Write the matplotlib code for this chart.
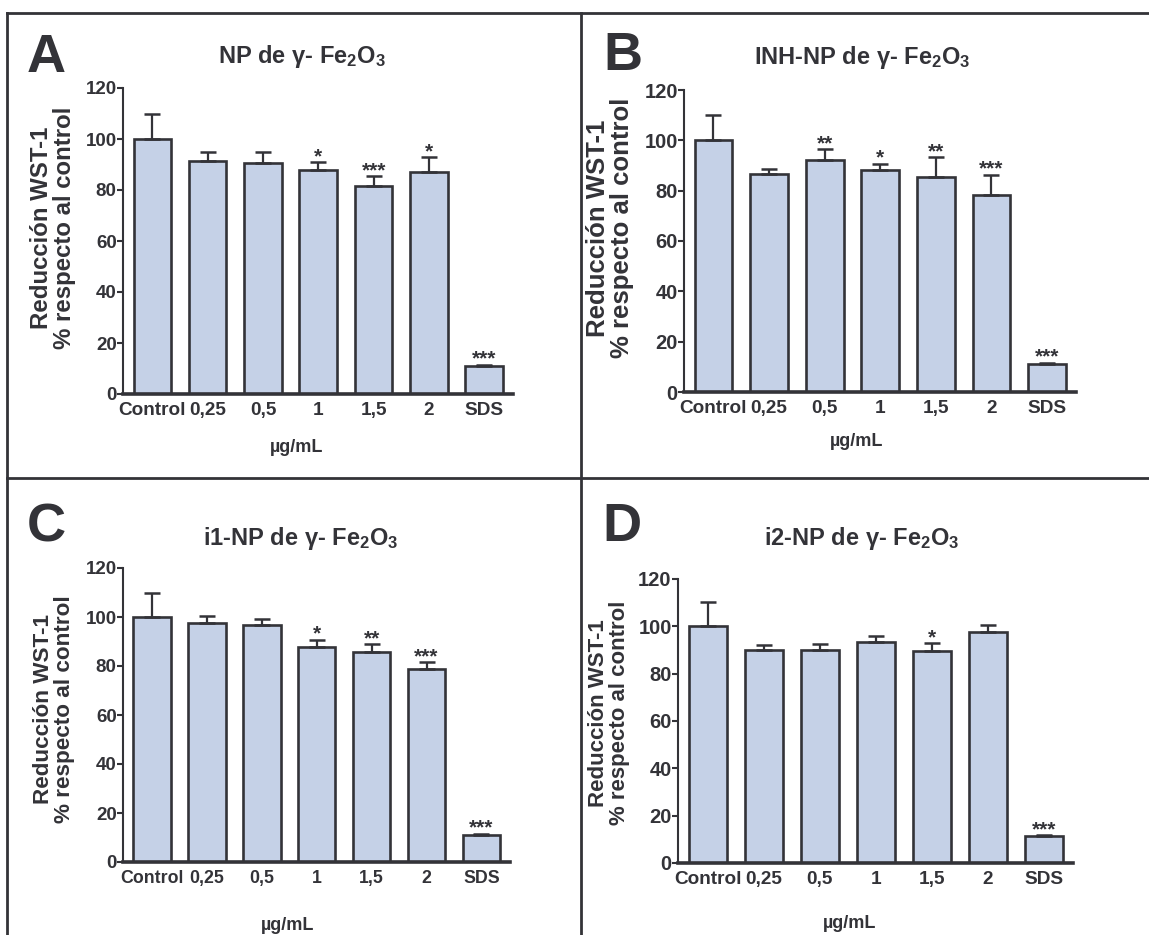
import numpy as np
import matplotlib
matplotlib.use('Agg')
import matplotlib.pyplot as plt
from matplotlib import font_manager
from matplotlib.lines import Line2D

# --- data ---
categories = ['Control', '0,25', '0,5', '1', '1,5', '2', 'SDS']

a_mean = [100, 91.3, 90.4, 88.0, 81.6, 87.1, 11.1]
a_err = [10.0, 3.7, 4.6, 2.8, 3.8, 5.8, 0.4]
a_stars = ['', '', '', '*', '***', '*', '***']

b_mean = [100, 86.6, 92.0, 88.3, 85.4, 78.2, 11.0]
b_err = [10.0, 2.0, 4.4, 2.4, 8.0, 8.1, 0.6]
b_stars = ['', '', '**', '*', '**', '***', '***']

c_mean = [100, 97.5, 96.7, 87.7, 85.9, 78.8, 11.0]
c_err = [9.8, 3.1, 2.6, 3.0, 3.1, 2.7, 0.6]
c_stars = ['', '', '', '*', '**', '***', '***']

d_mean = [100, 90.0, 90.0, 93.3, 89.6, 97.6, 11.3]
d_err = [10.2, 2.0, 2.4, 2.8, 3.4, 2.9, 0.4]
d_stars = ['', '', '', '', '*', '', '***']

titles = ['NP de γ- Fe$_2$O$_3$', 'INH-NP de γ- Fe$_2$O$_3$',
          'i1-NP de γ- Fe$_2$O$_3$', 'i2-NP de γ- Fe$_2$O$_3$']
letters = ['A', 'B', 'C', 'D']
ylabel = 'Reducción WST-1\n% respecto al control'
xlabel = 'µg/mL'

# --- style ---
W, H, DPI = 1149, 935, 100
INK = '#333338'
FILL = '#c5d1e7'

fonts = {f.name for f in font_manager.fontManager.ttflist}
NARROW = 'Liberation Sans Narrow' if 'Liberation Sans Narrow' in fonts else 'Liberation Sans'
SHRINK = 1.0 if NARROW == 'Liberation Sans Narrow' else 0.87

plt.rcParams['font.family'] = ['Liberation Sans', 'DejaVu Sans']
plt.rcParams['font.weight'] = 'bold'
plt.rcParams['mathtext.default'] = 'regular'


def fx(x):
    return x / W


def fy(y):
    return 1 - y / H


# pixel layout of each panel
layout = [
    dict(box=(123, 88, 513, 394), title=(302, 63), letter=(27, 72), ylab=(53, 228), ylab_fs=17.3,
         xlab=(297, 452), xt_fs=15.7, yt_fs=13.5),
    dict(box=(684, 90, 1076, 392), title=(862, 64), letter=(603, 70), ylab=(610, 228), ylab_fs=18.5,
         xlab=(857, 446), xt_fs=15.7, yt_fs=14.5),
    dict(box=(123, 568, 510, 862), title=(301, 545), letter=(27, 542), ylab=(54, 709), ylab_fs=16.2,
         xlab=(288, 930), xt_fs=14.7, yt_fs=13.5),
    dict(box=(678, 579, 1073, 863), title=(862, 545), letter=(602, 541), ylab=(609, 713), ylab_fs=16.0,
         xlab=(850, 928), xt_fs=15.7, yt_fs=14.5),
]
series = [(a_mean, a_err, a_stars), (b_mean, b_err, b_stars),
          (c_mean, c_err, c_stars), (d_mean, d_err, d_stars)]

fig = plt.figure(figsize=(W / DPI, H / DPI), dpi=DPI)
x = np.arange(len(categories))

for lay, (mean, err, stars), title, letter in zip(layout, series, titles, letters):
    x0, yt, x1, yb = lay['box']
    ax = fig.add_axes([fx(x0), fy(yb), (x1 - x0) / W, (yb - yt) / H])

    ax.bar(x, mean, width=0.68, color=FILL, edgecolor=INK, linewidth=1.9, zorder=2)
    ax.errorbar(x, mean, yerr=[np.zeros(len(err)), err], fmt='none', ecolor=INK,
                elinewidth=1.6, capsize=5.8, capthick=1.8, zorder=3)
    for xi, m, e, s in zip(x, mean, err, stars):
        if s:
            ax.annotate(s, (xi, m + e), xytext=(0, 0), textcoords='offset points',
                        ha='center', va='baseline', fontsize=15, color=INK)

    ax.set_xlim(-0.53, 6.52)
    ax.set_ylim(0, 120)
    for side in ['top', 'right']:
        ax.spines[side].set_visible(False)
    ax.spines['left'].set_linewidth(1.5)
    ax.spines['bottom'].set_linewidth(2.6)
    ax.spines['left'].set_color(INK)
    ax.spines['bottom'].set_color(INK)

    ax.set_yticks(range(0, 121, 20))
    ax.tick_params(axis='y', length=4, width=1.5, pad=0.5, labelsize=lay['yt_fs'],
                   color=INK, labelcolor=INK)
    ax.set_xticks(x)
    ax.set_xticklabels(categories, fontfamily=NARROW, fontsize=lay['xt_fs'] * SHRINK)
    ax.tick_params(axis='x', length=0, pad=6, labelcolor=INK)

    tx, ty = lay['title']
    fig.text(fx(tx), fy(ty), title, ha='center', va='baseline', fontsize=17, color=INK)
    lx, ly = lay['letter']
    fig.text(fx(lx), fy(ly), letter, ha='left', va='baseline', fontsize=39, color=INK)
    cx, cy = lay['ylab']
    fig.text(fx(cx), fy(cy), ylabel, rotation=90, ha='center', va='center',
             fontsize=lay['ylab_fs'], linespacing=1.02, color=INK)
    mx, my = lay['xlab']
    fig.text(fx(mx), fy(my), xlabel, ha='center', va='baseline', fontsize=13, color=INK)

# panel frame lines
frame = [((7, 13), (W, 13)), ((7, 13), (7, H)), ((581, 13), (581, H)), ((7, 478), (W, 478))]
for (xa, ya), (xb, yb2) in frame:
    fig.add_artist(Line2D([fx(xa), fx(xb)], [fy(ya), fy(yb2)], transform=fig.transFigure,
                          color=INK, linewidth=2.0))

fig.savefig('out.png', dpi=DPI)
